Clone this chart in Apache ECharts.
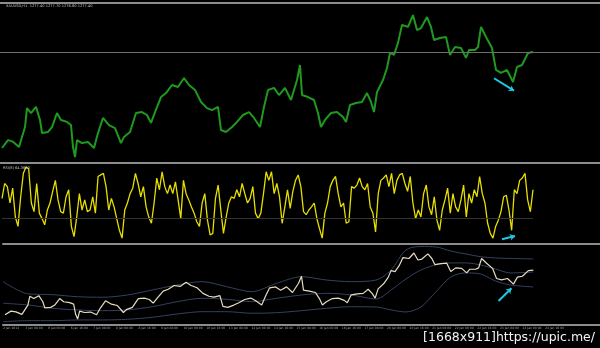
<!DOCTYPE html>
<html><head><meta charset="utf-8">
<script src="https://cdn.jsdelivr.net/npm/echarts@6/dist/echarts.min.js"></script>
<style>html,body{margin:0;padding:0;background:#000;}#c{width:600px;height:348px;}</style>
</head><body><div id="c"></div>
<script>
// ---- data ----
const headerText = 'XAUUSD,H1  1277.40 1277.70 1276.80 1277.40';
const rsiText = 'RSI(8) 64.3852';
const footerText = '[1668x911]https://upic.me/';

const priceHours = [2,8,13,19,25,27,31,36,40,42,48,52,57,61,67,71,73,75,77,82,88,94,98,103,109,115,121,124,130,136,142,147,151,155,161,166,172,178,184,189,195,201,207,212,218,221,226,232,237,243,249,254,260,264,268,274,279,285,291,297,300,302,308,314,318,321,325,331,337,343,346,350,356,362,367,371,374,377,383,387,390,394,398,402,408,413,417,421,427,431,434,440,446,450,455,461,466,469,475,478,481,486,492,496,501,507,513,517,522,528,533];
const priceValues = [1227.1,1231.1,1230.3,1227.6,1237.7,1247.3,1244.8,1247.9,1241.3,1234.7,1235.2,1237.7,1244.8,1241.3,1240.3,1238.7,1227.6,1222.5,1231.1,1229.6,1230.1,1227.1,1234.7,1242.3,1238.7,1237.2,1229.6,1232.7,1235.2,1244.8,1245.3,1243.8,1239.8,1245.3,1252.9,1254.9,1259.0,1258.0,1262.5,1259.0,1256.5,1250.4,1247.3,1246.3,1247.9,1236.2,1235.2,1237.7,1240.3,1243.8,1245.3,1242.3,1237.7,1247.9,1256.5,1257.5,1253.9,1257.5,1251.4,1261.5,1269.1,1253.9,1252.9,1251.4,1244.8,1237.7,1241.3,1244.8,1245.3,1242.8,1240.3,1248.9,1249.9,1250.4,1254.9,1250.4,1245.3,1255.4,1261.5,1267.6,1275.2,1274.2,1280.3,1289.4,1288.4,1294.4,1286.8,1287.8,1293.4,1288.4,1281.8,1282.8,1283.3,1274.2,1278.2,1277.7,1272.7,1276.7,1276.7,1278.2,1288.4,1283.3,1277.7,1266.6,1265.1,1266.6,1260.5,1268.1,1269.1,1275.2,1275.7];

const rsiValues = [56,75,71,50,69,32,20,58,88,96,94,50,39,75,37,30,22,41,50,65,79,54,39,37,58,67,20,7,32,62,41,54,39,41,58,37,84,86,88,71,41,56,45,30,15,5,41,50,62,69,88,75,58,71,45,32,24,50,82,67,90,71,62,73,62,77,54,30,79,62,54,45,37,26,20,50,62,28,9,11,56,73,41,11,32,50,58,56,67,58,75,62,50,56,71,37,30,37,62,90,79,90,62,75,58,24,45,67,43,65,79,86,71,39,35,41,45,50,30,17,5,37,50,71,79,84,62,45,50,24,26,71,69,73,82,71,67,75,45,37,13,62,79,82,86,71,88,62,79,86,88,75,65,84,50,30,41,32,62,73,45,35,58,28,15,41,54,69,37,62,45,39,54,73,32,62,50,67,58,84,62,50,24,11,5,20,28,39,58,60,41,15,67,62,79,82,88,54,39,67];
const rsiLevel = 30;

const bandHours  = [0,25,50,75,100,125,150,175,200,225,250,275,300,325,350,375,390,405,420,435,450,465,480,495,510,533];
const bandUpper  = [1263.2,1250.0,1249.0,1246.8,1246.2,1248.7,1254.1,1259.6,1263.2,1257.7,1252.3,1261.4,1268.6,1265.0,1263.2,1265.0,1275.9,1297.7,1301.5,1301.0,1296.6,1293.4,1290.4,1289.0,1288.5,1287.9];
const bandMiddle = [1239.7,1237.8,1234.2,1232.4,1231.6,1232.4,1235.9,1241.4,1245.1,1244.0,1241.4,1245.1,1248.7,1250.5,1248.7,1244.3,1254.1,1266.1,1275.9,1281.4,1283.6,1283.6,1281.4,1277.0,1272.7,1273.7];
const bandLower  = [1219.6,1220.7,1220.7,1221.5,1221.5,1222.2,1224.4,1228.0,1230.5,1230.5,1228.8,1229.4,1231.6,1234.2,1235.9,1235.6,1232.4,1230.2,1235.6,1252.0,1268.3,1272.7,1271.6,1263.9,1259.6,1257.4];

const dateLabels = ['2 Jan 2014','3 Jan 08:00','6 Jan 00:00','6 Jan 16:00','7 Jan 08:00','8 Jan 00:00','8 Jan 16:00','9 Jan 08:00','10 Jan 00:00','10 Jan 16:00','13 Jan 08:00','14 Jan 00:00','14 Jan 16:00','15 Jan 08:00','16 Jan 00:00','16 Jan 16:00','17 Jan 08:00','20 Jan 00:00','20 Jan 16:00','21 Jan 08:00','22 Jan 00:00','22 Jan 16:00','23 Jan 08:00','24 Jan 00:00','24 Jan 16:00'];

const topArrow = [[494,1262.4],[514,1256.1]];
const rsiArrow = [[502,3.5],[515,7.7]];
const lowArrow = [[498,1242.2],[511,1256.0]];

// ---- build ----
const pricePairs = priceHours.map((h,i)=>[h, priceValues[i]]);
const bandPairs = arr => bandHours.map((h,i)=>[h, arr[i]]);
const sepLine = {show:true, onZero:false, lineStyle:{color:'#8c8c8c', width:2}};
const lineOnlyAxis = (grid, pos) => ({type:'value', gridIndex:grid, min:0, max:600, position:pos,
  axisLine:sepLine, axisTick:{show:false}, axisLabel:{show:false}, splitLine:{show:false}});
const LABEL_STEP = 22.7;
const BAND_COLOR = '#34415f';
const ARROW_COLOR = '#20c8e0';

const chart = echarts.init(document.getElementById('c'), null, {renderer:'canvas'});
chart.setOption({
  backgroundColor:'#000',
  animation:false,
  title:[
    {text:headerText, left:6, top:4, padding:0, textStyle:{color:'#c0c0c0', fontSize:3.6, fontWeight:'normal', fontFamily:'DejaVu Sans'}},
    {text:rsiText, left:3, top:166, padding:0, textStyle:{color:'#c0c0c0', fontSize:3.6, fontWeight:'normal', fontFamily:'DejaVu Sans'}},
    {text:footerText, right:5, top:331, padding:0, textStyle:{color:'#f2f2f2', fontSize:12.5, fontWeight:'normal', fontFamily:'DejaVu Sans'}}
  ],
  grid:[
    {left:0, right:0, top:3, height:160},
    {left:2, right:67, top:163, height:81},
    {left:0, right:0, top:163, height:81},
    {left:0, right:0, top:244, height:81}
  ],
  xAxis:[
    lineOnlyAxis(0,'top'),
    lineOnlyAxis(0,'bottom'),
    {type:'category', gridIndex:1, boundaryGap:false, data:rsiValues.map((_,i)=>i), show:false},
    {type:'value', gridIndex:2, min:0, max:600, show:false},
    lineOnlyAxis(3,'top'),
    {type:'value', gridIndex:3, min:0, max:600, interval:LABEL_STEP, position:'bottom',
      axisLine:sepLine, axisTick:{show:false}, splitLine:{show:false},
      axisLabel:{show:true, fontSize:3, color:'#a0a0a0', margin:1.5, align:'left', showMaxLabel:false, fontFamily:'DejaVu Sans',
        formatter:v=>{const i=Math.round(v/LABEL_STEP); return i<dateLabels.length?dateLabels[i]:'';}}}
  ],
  yAxis:[
    {type:'value', gridIndex:0, min:1219.5, max:1300.5, show:false, splitLine:{show:false}},
    {type:'value', gridIndex:1, min:-2.56, max:101.28, show:false, splitLine:{show:false}},
    {type:'value', gridIndex:2, min:-2.56, max:101.28, show:false, splitLine:{show:false}},
    {type:'value', gridIndex:3, min:1216, max:1304.2, show:false, splitLine:{show:false}}
  ],
  series:[
    {type:'line', xAxisIndex:0, yAxisIndex:0, data:pricePairs, showSymbol:false, symbol:'none',
      lineStyle:{color:'#1f9a1f', width:2},
      markLine:{silent:true, symbol:'none', label:{show:false}, lineStyle:{color:'#6e6e6e', width:1, type:'solid'},
        data:[{yAxis:priceValues[priceValues.length-1]}]}},
    {type:'lines', coordinateSystem:'cartesian2d', xAxisIndex:0, yAxisIndex:0, symbol:['none','arrow'], symbolSize:5,
      lineStyle:{color:ARROW_COLOR, width:2, opacity:1}, data:[{coords:topArrow}]},
    {type:'line', xAxisIndex:2, yAxisIndex:1, data:rsiValues, showSymbol:false, symbol:'none',
      lineStyle:{color:'#e6df00', width:1.3},
      markLine:{silent:true, symbol:'none', label:{show:false}, lineStyle:{color:'#333333', width:1, type:'solid'},
        data:[{yAxis:rsiLevel}]}},
    {type:'lines', coordinateSystem:'cartesian2d', xAxisIndex:3, yAxisIndex:2, symbol:['none','arrow'], symbolSize:5,
      lineStyle:{color:ARROW_COLOR, width:2, opacity:1}, data:[{coords:rsiArrow}]},
    {type:'line', xAxisIndex:5, yAxisIndex:3, data:bandPairs(bandUpper), showSymbol:false, symbol:'none', smooth:0.3, lineStyle:{color:BAND_COLOR, width:1}},
    {type:'line', xAxisIndex:5, yAxisIndex:3, data:bandPairs(bandMiddle), showSymbol:false, symbol:'none', smooth:0.3, lineStyle:{color:BAND_COLOR, width:1}},
    {type:'line', xAxisIndex:5, yAxisIndex:3, data:bandPairs(bandLower), showSymbol:false, symbol:'none', smooth:0.3, lineStyle:{color:BAND_COLOR, width:1}},
    {type:'line', xAxisIndex:5, yAxisIndex:3, data:pricePairs, showSymbol:false, symbol:'none', lineStyle:{color:'#e6dcc2', width:1.2}},
    {type:'lines', coordinateSystem:'cartesian2d', xAxisIndex:5, yAxisIndex:3, symbol:['none','arrow'], symbolSize:5,
      lineStyle:{color:ARROW_COLOR, width:2, opacity:1}, data:[{coords:lowArrow}]}
  ]
});
</script></body></html>
